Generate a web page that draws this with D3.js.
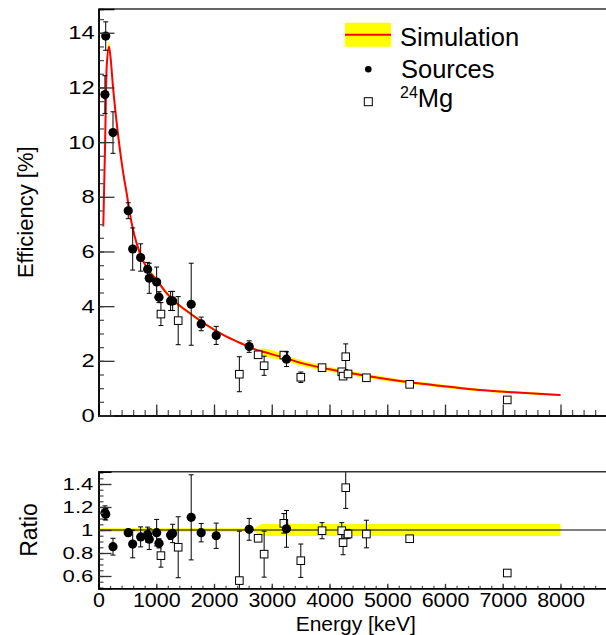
<!DOCTYPE html>
<html>
<head>
<meta charset="utf-8">
<script src="https://d3js.org/d3.v7.min.js"></script>
<style>
body { margin: 0; background: #fff; }
svg { display: block; }
text { font-family: "Liberation Sans", Arial, sans-serif; fill: #000; }
</style>
</head>
<body>
<div id="chart"></div>
<script>
// simulation curve (efficiency %) and relative band
var simEnergy = [83, 112, 142, 182, 211, 246, 303, 372, 429, 498, 533, 620, 718, 850, 1007, 1150, 1294, 1583, 1872, 2159, 2448, 2737, 2851, 3256, 3428, 4004, 4580, 4869, 5158, 5445, 5734, 6023, 6599, 7175, 8000];
var simEff = [6.91, 9.71, 12.76, 13.49, 13.05, 12.15, 10.93, 9.71, 8.86, 8.0, 7.51, 6.6, 5.93, 5.35, 4.96, 4.55, 4.22, 3.74, 3.31, 2.95, 2.66, 2.40, 2.33, 2.09, 1.97, 1.69, 1.47, 1.37, 1.28, 1.20, 1.13, 1.06, 0.93, 0.85, 0.75];
var simErr = [0.015, 0.015, 0.015, 0.015, 0.015, 0.015, 0.015, 0.015, 0.015, 0.015, 0.015, 0.015, 0.015, 0.015, 0.015, 0.015, 0.015, 0.015, 0.015, 0.015, 0.015, 0.015, 0.052, 0.052, 0.052, 0.052, 0.052, 0.052, 0.052, 0.052, 0.052, 0.052, 0.052, 0.052, 0.052];

// ratio band
var bandEnergy = [0, 2700, 2820, 8000];
var bandHalf = [0.015, 0.015, 0.052, 0.052];

// calibration sources
var srcEnergy = [112, 125, 251, 515, 592, 730, 851, 879, 1007, 1047, 1249, 1284, 1605, 1778, 2038, 2609, 3255];
var srcEff = [11.74, 13.88, 10.35, 7.49, 6.09, 5.78, 5.35, 5.02, 4.88, 4.33, 4.19, 4.19, 4.07, 3.35, 2.93, 2.52, 2.06];
var srcEffErr = [0.69, 0.52, 0.76, 0.29, 0.77, 0.5, 0.25, 0.55, 0.55, 0.2, 0.35, 0.35, 1.5, 0.25, 0.33, 0.21, 0.27];
var srcRatio = [1.15, 1.137, 0.855, 0.977, 0.878, 0.94, 0.96, 0.92, 0.977, 0.884, 0.957, 0.97, 1.11, 0.977, 0.95, 1.006, 1.01];
var srcRatioErr = [0.06, 0.05, 0.073, 0.03, 0.12, 0.087, 0.065, 0.09, 0.115, 0.04, 0.04, 0.08, 0.37, 0.08, 0.11, 0.095, 0.16];

// 24Mg lines
var mgEnergy = [1081, 1380, 2439, 2764, 2868, 3209, 3503, 3871, 4212, 4235, 4281, 4321, 4639, 5388, 7078];
var mgEff = [3.71, 3.47, 1.51, 2.22, 1.82, 2.21, 1.40, 1.75, 1.60, 1.44, 2.15, 1.52, 1.38, 1.14, 0.57];
var mgEffErr = [0.42, 0.88, 0.64, 0.08, 0.35, 0.12, 0.19, 0.05, 0.05, 0.08, 0.47, 0.06, 0.05, 0.03, 0.03];
var mgRatio = [0.777, 0.85, 0.56, 0.928, 0.79, 1.058, 0.733, 0.994, 0.994, 0.89, 1.368, 0.965, 0.965, 0.924, 0.626];
var mgRatioErr = [0.1, 0.265, 0.43, 0.02, 0.2, 0.085, 0.145, 0.07, 0.07, 0.105, 0.18, 0.04, 0.12, 0.02, 0.02];

var xMajor = [0, 1000, 2000, 3000, 4000, 5000, 6000, 7000, 8000];
var effMajor = [0, 2, 4, 6, 8, 10, 12, 14];
var ratioMajor = [0.6, 0.8, 1, 1.2, 1.4];

var width = 606, height = 635;
var left = 98.5, right = 613;
var top1 = 9, bottom1 = 415.5, top2 = 471.7, bottom2 = 588.3;

var svg = d3.select("#chart").append("svg")
    .attr("width", width)
    .attr("height", height);

var x = d3.scaleLinear().domain([0, 8909]).range([left, right]);
var y = d3.scaleLinear().domain([0, 14.87]).range([bottom1, top1]);
var yr = d3.scaleLinear().domain([0.493, 1.507]).range([bottom2, top2]);

var defs = svg.append("defs");
defs.append("clipPath").attr("id", "clip-ratio")
    .append("rect")
    .attr("x", left).attr("y", top2)
    .attr("width", right - left).attr("height", bottom2 - top2);

function styleAxis(g, color) {
    g.select(".domain").attr("stroke", "#000").attr("stroke-width", 1.5);
    g.selectAll(".tick line").attr("stroke", color).attr("stroke-width", 1.3);
}

// ---------- top panel ----------
var sim = simEnergy.map(function (e, i) { return { e: e, v: simEff[i], r: simErr[i] }; });

var effPanel = svg.append("g");

effPanel.append("path")
    .datum(sim)
    .attr("fill", "#ffff00")
    .attr("d", d3.area()
        .x(function (d) { return x(d.e); })
        .y0(function (d) { return y(d.v * (1 - d.r)); })
        .y1(function (d) { return y(d.v * (1 + d.r)); })
        .curve(d3.curveMonotoneX));

effPanel.append("path")
    .datum(sim)
    .attr("fill", "none")
    .attr("stroke", "#ff0000")
    .attr("stroke-width", 2)
    .attr("d", d3.line()
        .x(function (d) { return x(d.e); })
        .y(function (d) { return y(d.v); })
        .curve(d3.curveMonotoneX));

function drawPoints(g, xs, vs, errs, ys, kind) {
    var pts = xs.map(function (e, i) { return { e: e, v: vs[i], err: errs[i] }; });
    var eb = g.append("g").attr("stroke", "#000").attr("stroke-width", 1);
    pts.forEach(function (d) {
        var px = x(d.e), y1 = ys(d.v + d.err), y2 = ys(d.v - d.err);
        eb.append("line").attr("x1", px).attr("x2", px).attr("y1", y1).attr("y2", y2);
        eb.append("line").attr("x1", px - 2.5).attr("x2", px + 2.5).attr("y1", y1).attr("y2", y1);
        eb.append("line").attr("x1", px - 2.5).attr("x2", px + 2.5).attr("y1", y2).attr("y2", y2);
    });
    if (kind == "circle") {
        g.selectAll(null).data(pts).enter().append("circle")
            .attr("cx", function (d) { return x(d.e); })
            .attr("cy", function (d) { return ys(d.v); })
            .attr("r", 4.6)
            .attr("fill", "#000");
    } else {
        g.selectAll(null).data(pts).enter().append("rect")
            .attr("x", function (d) { return x(d.e) - 3.8; })
            .attr("y", function (d) { return ys(d.v) - 3.8; })
            .attr("width", 7.6).attr("height", 7.6)
            .attr("fill", "#fff").attr("stroke", "#000").attr("stroke-width", 1);
    }
}

drawPoints(effPanel.append("g"), mgEnergy, mgEff, mgEffErr, y, "square");
drawPoints(effPanel.append("g"), srcEnergy, srcEff, srcEffErr, y, "circle");

// frame top
svg.append("line").attr("x1", left).attr("x2", right).attr("y1", top1).attr("y2", top1)
    .attr("stroke", "#333").attr("stroke-width", 1.6);

var xTopMinor = svg.append("g").attr("transform", "translate(0," + bottom1 + ")")
    .call(d3.axisBottom(x).tickValues(d3.range(0, 45).map(function (i) { return i * 200; })).tickSize(-5.5).tickFormat(""));
styleAxis(xTopMinor, "#555");
var xTop = svg.append("g").attr("transform", "translate(0," + bottom1 + ")")
    .call(d3.axisBottom(x).tickValues(xMajor).tickSize(-11).tickFormat(""));
styleAxis(xTop, "#333");

var yTopMinor = svg.append("g").attr("transform", "translate(" + left + ",0)")
    .call(d3.axisLeft(y).tickValues(d3.range(0, 30).map(function (i) { return i * 0.5; })).tickSize(-5.5).tickFormat(""));
styleAxis(yTopMinor, "#555");
var yTop = svg.append("g").attr("transform", "translate(" + left + ",0)")
    .call(d3.axisLeft(y).tickValues(effMajor).tickSize(-16).tickPadding(3));
styleAxis(yTop, "#333");
yTop.selectAll(".tick text")
    .attr("font-size", 19)
    .attr("transform", "scale(1.25,1)");

svg.append("text")
    .attr("transform", "translate(32.5," + ((top1 + bottom1) / 2) + ") rotate(-90)")
    .attr("text-anchor", "middle")
    .attr("font-size", 22)
    .text("Efficiency [%]");

// legend
var legend = svg.append("g");
legend.append("rect").attr("x", 345).attr("y", 22.7).attr("width", 46).attr("height", 24).attr("fill", "#ffff00");
legend.append("line").attr("x1", 345).attr("x2", 391).attr("y1", 34.7).attr("y2", 34.7)
    .attr("stroke", "#ff0000").attr("stroke-width", 2);
legend.append("text").attr("x", 400).attr("y", 45.5).attr("font-size", 25.5).text("Simulation");
legend.append("circle").attr("cx", 368.3).attr("cy", 69.3).attr("r", 3.3).attr("fill", "#000");
legend.append("text").attr("x", 401).attr("y", 78.3).attr("font-size", 25.5).text("Sources");
legend.append("rect").attr("x", 364.3).attr("y", 97.7).attr("width", 8).attr("height", 8)
    .attr("fill", "#fff").attr("stroke", "#000").attr("stroke-width", 1);
var mgText = legend.append("text").attr("x", 400).attr("y", 106.7).attr("font-size", 25.5);
mgText.append("tspan").attr("font-size", 16).attr("dy", -9).text("24");
mgText.append("tspan").attr("dy", 9).text("Mg");

// ---------- ratio panel ----------
var ratio = svg.append("g").attr("clip-path", "url(#clip-ratio)");
var band = bandEnergy.map(function (e, i) { return { e: e, h: bandHalf[i] }; });

ratio.append("path")
    .datum(band)
    .attr("fill", "#ffff00")
    .attr("d", d3.area()
        .x(function (d) { return x(d.e); })
        .y0(function (d) { return yr(1 - d.h); })
        .y1(function (d) { return yr(1 + d.h); }));

ratio.append("line")
    .attr("x1", left).attr("x2", right)
    .attr("y1", yr(1)).attr("y2", yr(1))
    .attr("stroke", "#000").attr("stroke-width", 1);

drawPoints(ratio.append("g"), mgEnergy, mgRatio, mgRatioErr, yr, "square");
drawPoints(ratio.append("g"), srcEnergy, srcRatio, srcRatioErr, yr, "circle");

svg.append("line").attr("x1", left).attr("x2", right).attr("y1", top2).attr("y2", top2)
    .attr("stroke", "#333").attr("stroke-width", 1.6);

var xBotMinor = svg.append("g").attr("transform", "translate(0," + bottom2 + ")")
    .call(d3.axisBottom(x).tickValues(d3.range(0, 45).map(function (i) { return i * 200; })).tickSize(-2.5).tickFormat(""));
styleAxis(xBotMinor, "#555");
var xBot = svg.append("g").attr("transform", "translate(0," + bottom2 + ")")
    .call(d3.axisBottom(x).tickValues(xMajor).tickSize(-4.5).tickPadding(5).tickFormat(d3.format("d")));
styleAxis(xBot, "#333");
xBot.selectAll(".tick text")
    .attr("font-size", 19.5)
    .attr("transform", "scale(1.1,1)");

var yBotMinor = svg.append("g").attr("transform", "translate(" + left + ",0)")
    .call(d3.axisLeft(yr).tickValues(d3.range(10, 31).map(function (i) { return i * 0.05; })).tickSize(-5).tickFormat(""));
styleAxis(yBotMinor, "#555");
var yBot = svg.append("g").attr("transform", "translate(" + left + ",0)")
    .call(d3.axisLeft(yr).tickValues(ratioMajor).tickSize(-13).tickPadding(4)
        .tickFormat(function (d) { return d == 1 ? "1" : d3.format(".1f")(d); }));
styleAxis(yBot, "#333");
yBot.selectAll(".tick text")
    .attr("font-size", 17)
    .attr("transform", "scale(1.3,1)");

svg.append("text")
    .attr("transform", "translate(36.5," + ((top2 + bottom2) / 2) + ") rotate(-90)")
    .attr("text-anchor", "middle")
    .attr("font-size", 23)
    .text("Ratio");

svg.append("text")
    .attr("x", (left + right) / 2)
    .attr("y", 630.5)
    .attr("text-anchor", "middle")
    .attr("font-size", 21)
    .text("Energy [keV]");
</script>
</body>
</html>
